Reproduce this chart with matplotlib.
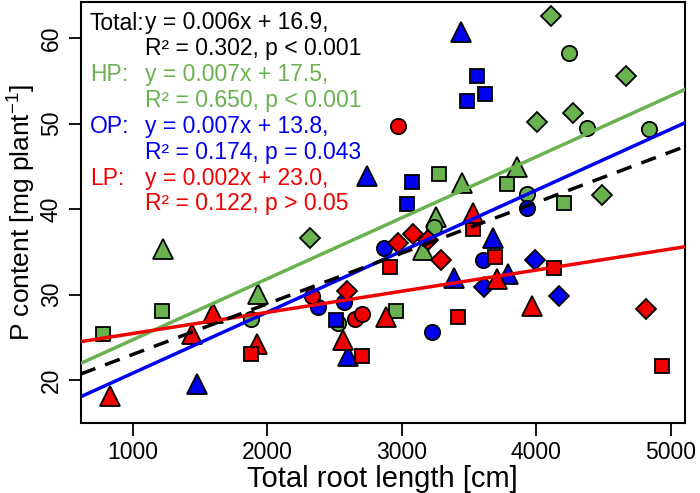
import numpy as np
import matplotlib
matplotlib.use('Agg')
import matplotlib.pyplot as plt

plt.rcParams['font.family'] = ['Liberation Sans', 'DejaVu Sans']
plt.rcParams['mathtext.fontset'] = 'custom'
plt.rcParams['mathtext.rm'] = 'Liberation Sans'

# o = circle, s = square, ^ = triangle, D = diamond
hp_x     = [777, 1223, 1215, 1929, 1877, 2317, 3274, 3447, 3254, 3241, 3155, 2956, 2528,
            3779, 3853, 3932, 4108, 4002, 4269, 4663, 4240, 4378, 4839, 4207, 4485]
hp_y     = [25.4, 35.4, 28.1, 30.1, 27.2, 36.6, 44.1, 43.0, 39.1, 37.9, 35.2, 28.1, 26.7,
            42.9, 44.9, 41.8, 62.6, 50.2, 51.2, 55.5, 58.2, 49.5, 49.4, 40.7, 41.6]
hp_shape = ['s', '^', 's', '^', 'o', 'D', 's', '^', '^', 'o', '^', 's', 'o',
            's', '^', 'o', 'D', 'D', 'D', 'D', 'o', 'o', 'o', 's', 'D']

op_x     = [1480, 3437, 3556, 3620, 3482, 2739, 3073, 3036, 2870, 3386, 3675, 3605, 3612,
            3791, 3989, 4170, 3224, 2511, 2570, 2379, 2602, 3928]
op_y     = [19.6, 60.7, 55.6, 53.4, 52.6, 43.9, 43.2, 40.6, 35.5, 32.0, 36.6, 34.0, 30.9,
            32.4, 34.1, 29.9, 25.6, 27.1, 29.1, 28.6, 22.9, 40.1]
op_shape = ['^', '^', 's', 's', 's', '^', 's', 's', 'o', '^', '^', 'o', 'D',
            '^', 'D', 'D', 'o', 's', 'o', 'o', '^', 'o']

lp_x     = [831, 1438, 1594, 1921, 1877, 2336, 2652, 2701, 2596, 2565, 2701, 2882, 3415,
            2914, 2974, 3085, 3196, 3290, 3531, 3526, 3692, 3705, 4131, 3965, 4812, 4935, 2969]
lp_y     = [18.2, 25.4, 27.9, 24.3, 23.1, 29.9, 27.2, 27.8, 30.4, 24.7, 22.8, 27.4, 27.4,
            33.2, 36.0, 37.1, 36.4, 34.0, 37.7, 39.5, 34.4, 31.8, 33.1, 28.7, 28.3, 21.7, 49.7]
lp_shape = ['^', '^', '^', '^', 's', 'o', 'o', 'o', 'D', '^', 's', '^', 's',
            's', 'D', 'D', 'D', 'D', 's', '^', 's', '^', 's', '^', 'D', 's', 'o']

# regression lines (slope, intercept) as drawn
fit_total = (0.00592, 17.1)
fit_hp    = (0.00713, 17.6)
fit_op    = (0.00713, 13.7)
fit_lp    = (0.00247, 23.0)

GREEN = '#6AB150'
BLUE  = '#0000F0'
RED   = '#F00000'

eq_lines = [
    ('Total:', 'y = 0.006x + 16.9,', 'R² = 0.302, p < 0.001', 'black'),
    ('HP:', 'y = 0.007x + 17.5,', 'R² = 0.650, p < 0.001', GREEN),
    ('OP:', 'y = 0.007x + 13.8,', 'R² = 0.174, p = 0.043', BLUE),
    ('LP:', 'y = 0.002x + 23.0,', 'R² = 0.122, p > 0.05', RED),
]

sizes = {'o': 11, 's': 10.5, '^': 14, 'D': 10}

fig = plt.figure(figsize=(7, 4.93), dpi=100)
ax = fig.add_axes([0.1153, 0.1426, 0.8633, 0.8534])

for xs, ys, shapes, col in [(hp_x, hp_y, hp_shape, GREEN),
                            (op_x, op_y, op_shape, BLUE),
                            (lp_x, lp_y, lp_shape, RED)]:
    for x, y, m in zip(xs, ys, shapes):
        ax.plot(x, y, marker=m, ms=sizes[m], mfc=col, mec='black', mew=1.3,
                linestyle='none', zorder=3)

xlim = (614, 5104)
xx = np.array(xlim)
ax.plot(xx, fit_hp[0] * xx + fit_hp[1], color=GREEN, lw=2.5, zorder=4)
ax.plot(xx, fit_op[0] * xx + fit_op[1], color=BLUE, lw=2.5, zorder=4)
ax.plot(xx, fit_lp[0] * xx + fit_lp[1], color=RED, lw=2.5, zorder=4)
ax.plot(xx, fit_total[0] * xx + fit_total[1], color='black', lw=2.5,
        dashes=(4.5, 3), zorder=4)

ax.set_xlim(*xlim)
ax.set_ylim(15.05, 64.2)
ax.set_xticks([1000, 2000, 3000, 4000, 5000])
ax.set_yticks([20, 30, 40, 50, 60])
ax.tick_params(direction='out', length=9, width=1.3, labelsize=16.5, pad=4)
for lab in ax.get_yticklabels():
    lab.set_rotation(90)
    lab.set_va('center')
for s in ax.spines.values():
    s.set_linewidth(1.5)

ax.set_xlabel('Total root length [cm]', fontsize=21, labelpad=1)
ax.set_ylabel('P content [mg plant$^{\\mathregular{-1}}$]', fontsize=19, labelpad=2)

y0 = 23
for i, (lab, l1, l2, col) in enumerate(eq_lines):
    ya = y0 + i * 51.8
    fig.text(90 / 700, 1 - ya / 493, lab, color=col, fontsize=16.5, va='center', ha='left')
    fig.text(145 / 700, 1 - ya / 493, l1, color=col, fontsize=16.5, va='center', ha='left')
    fig.text(145 / 700, 1 - (ya + 25.5) / 493, l2, color=col, fontsize=16.5, va='center', ha='left')

fig.savefig('out.png', dpi=100)
